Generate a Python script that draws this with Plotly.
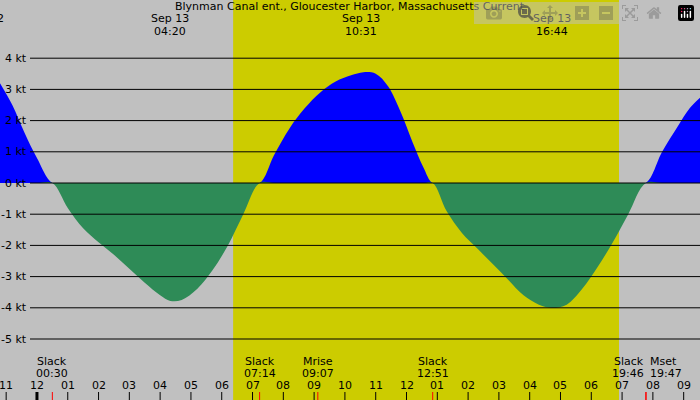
import plotly.graph_objects as go

title = "Blynman Canal ent., Gloucester Harbor, Massachusetts Current"
# time in hours from midnight Sep 13, current in knots
times = [-1.2,-0.8,-0.4,0,0.5, 1,1.5,2,2.5,3,3.5,4,4.33,4.7,5.2,5.7,6.2,6.7,7.23,
         7.7,8.2,8.7,9.2,9.7,10.2,10.6,11,11.4,11.8,12.2,12.55,12.85,
         13.3,13.8,14.3,14.8,15.3,15.8,16.3,16.73,17.2,17.7,18.2,18.7,19.2,19.77,
         20.3,20.8,21.2,21.55]
speed = [3.2,2.5,1.6,0.8,0, -0.8,-1.45,-1.9,-2.3,-2.75,-3.2,-3.6,-3.78,-3.75,-3.4,-2.8,-2.0,-1.0,0,
         0.9,1.75,2.4,2.9,3.25,3.45,3.55,3.5,3.1,2.3,1.3,0.5,0,
         -0.9,-1.6,-2.1,-2.6,-3.1,-3.6,-3.9,-4.0,-3.9,-3.4,-2.7,-1.9,-1.0,0,
         1.0,1.8,2.4,2.75]
kt_levels = [4,3,2,1,0,-1,-2,-3,-4,-5]
hour_ticks = list(range(-1,22))
hour_labels = ["%02d" % (((h-1) % 12)+1) for h in hour_ticks]
peaks = [(4.33,"Sep 13","04:20"),(10.52,"Sep 13","10:31"),(16.73,"Sep 13","16:44")]
events = [(0.5,"Slack","00:30","center"),(7.23,"Slack","07:14","center"),(9.12,"Mrise","09:07","center"),
          (12.85,"Slack","12:51","center"),(19.77,"Slack","19:46","right"),(19.78,"Mset","19:47","left")]
day_start, day_end = 6.37, 18.9

X0, X1 = -1.2, 21.53
ymax, ymin = 183/31.2, -(400-183)/31.2
def py(pix): return 1 - pix/400

pos = [max(v,0) for v in speed]
neg = [min(v,0) for v in speed]
fig = go.Figure()
fig.add_trace(go.Scatter(x=times, y=pos, fill="tozeroy", mode="lines", line=dict(width=0, color="#0000ff", shape="spline"), fillcolor="#0000ff"))
fig.add_trace(go.Scatter(x=times, y=neg, fill="tozeroy", mode="lines", line=dict(width=0, color="#2e8b57", shape="spline"), fillcolor="#2e8b57"))

shapes = [dict(type="rect", xref="x", yref="paper", x0=day_start, x1=day_end, y0=0, y1=1, fillcolor="#cccc00", line_width=0, layer="below")]
ann = []
font = dict(family="DejaVu Sans", size=11, color="black")
def txt(x, xref, ypix, t, xanchor="center", xshift=0):
    ann.append(dict(x=x, xref=xref, y=py(ypix), yref="paper", text=t, showarrow=False, font=font,
                    xanchor=xanchor, yanchor="middle", xshift=xshift))
for k in kt_levels:
    shapes.append(dict(type="line", xref="paper", yref="y", x0=30/700, x1=1, y0=k, y1=k, line=dict(color="black", width=1), layer="above"))
    ann.append(dict(x=29/700, xref="paper", y=k, yref="y", text=f"{k} kt", showarrow=False, xanchor="right", font=font))
for h, l in zip(hour_ticks, hour_labels):
    txt(h, "x", 385, l)
for h in hour_ticks:
    shapes.append(dict(type="line", xref="x", yref="paper", x0=h, x1=h, y0=0, y1=0.02, line=dict(color="black", width=3 if h == 0 else 1), layer="above"))
for h, a, b, anc in events:
    shapes.append(dict(type="line", xref="x", yref="paper", x0=h, x1=h, y0=0, y1=0.02, line=dict(color="red", width=1), layer="above"))
for h, a, b in peaks:
    txt(h, "x", 19, a); txt(h, "x", 31, b)
for h, a, b, anc in events:
    sh = 2 if anc == "left" else 0
    txt(h, "x", 361, a, anc, sh); txt(h, "x", 373, b, anc, sh)
txt(0.5, "paper", 7, title)
txt(0, "paper", 19, "2", "center")

fig.update_layout(width=700, height=400, margin=dict(l=0, r=0, t=0, b=0),
                  plot_bgcolor="#c0c0c0", paper_bgcolor="#c0c0c0", showlegend=False,
                  shapes=shapes, annotations=ann)
fig.update_xaxes(range=[X0, X1], visible=False)
fig.update_yaxes(range=[ymin, ymax], visible=False)
fig.write_html("out.html", post_script="document.body.style.margin='0';document.body.style.overflow='hidden';")
